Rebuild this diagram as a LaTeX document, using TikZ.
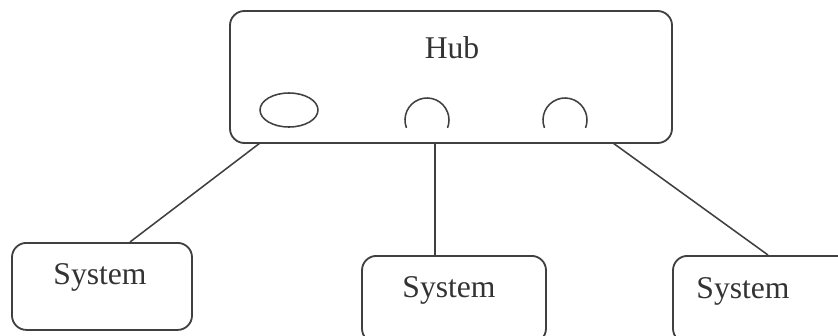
\documentclass[tikz,border=0pt]{standalone}
\usepackage{fontspec}
\setmainfont{Liberation Serif}
\usepackage{tikz}
\usetikzlibrary{positioning}

\begin{document}
\begin{tikzpicture}[
  x=0.025cm, y=0.025cm,
  caja/.style={draw=black!75, line width=1.3pt, rounded corners=0.36cm, inner sep=0pt},
  hubcaja/.style={caja, minimum width=442*0.025cm, minimum height=132*0.025cm},
  sistema/.style={caja, anchor=north, minimum width=180*0.025cm, minimum height=87*0.025cm},
  texto/.style={text=black!80, font=\fontsize{22.5}{26}\selectfont},
  linea/.style={draw=black!75, line width=1.1pt}
]
  \useasboundingbox (0,0) rectangle (838,-336);
  \clip (0,0) rectangle (838,-336);

  % hub con sus puertos
  \node[hubcaja] (hub) at (451,-77) {};
  \node[texto] (hubtxt) at (452,-48) {Hub};
  \draw[linea] (289,-110) ellipse [x radius=29, y radius=17];
  \draw[linea] ([shift={(201:22)}]427,-120) arc[start angle=201, end angle=-21, radius=22];
  \draw[linea] ([shift={(201:22)}]565,-120) arc[start angle=201, end angle=-21, radius=22];

  % sistemas
  \node[sistema] (s1) at (102,-242) {};
  \node[sistema, minimum width=184*0.025cm] (s2) at (454,-255) {};
  \node[sistema] (s3) at (763,-255) {};
  \node[texto] (t1) at (100,-277) {System};
  \node[texto] (t2) at (449,-290) {System};
  \node[texto] (t3) at (743,-291) {System};

  % conexiones
  \coordinate (p1) at (260,-143);
  \coordinate (p2) at (435,-143);
  \coordinate (p3) at (613,-143);
  \draw[linea] (p1) -- ([xshift=28*0.025cm]s1.north);
  \draw[linea] (p2) -- (p2 |- s2.north);
  \draw[linea] (p3) -- ([xshift=5*0.025cm]s3.north);
\end{tikzpicture}
\end{document}
